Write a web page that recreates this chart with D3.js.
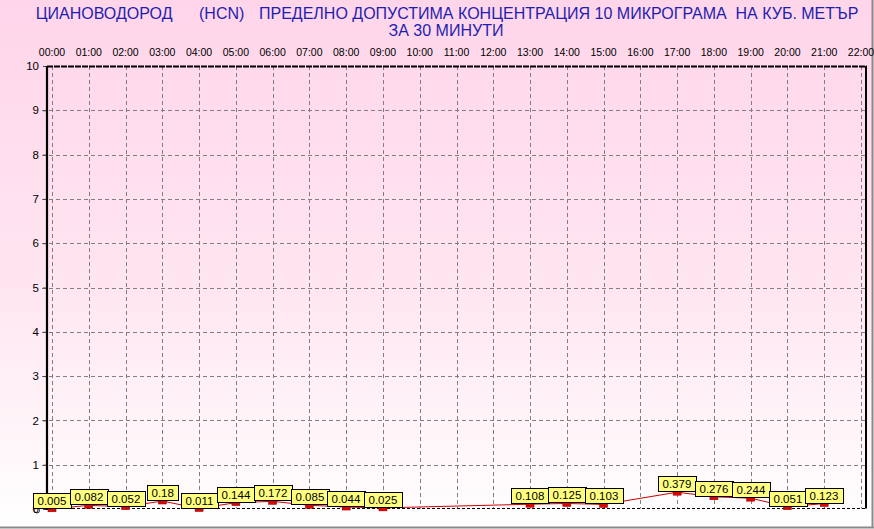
<!DOCTYPE html>
<html><head><meta charset="utf-8">
<script src="https://cdn.jsdelivr.net/npm/d3@7"></script>
<style>
html,body{margin:0;padding:0;background:#fff;}
svg{display:block;font-family:"Liberation Sans",Arial,sans-serif;}
</style></head>
<body>
<svg id="c" width="874" height="529"></svg>
<script>
const titleParts = ["ЦИАНОВОДОРОД", "(HCN)", "ПРЕДЕЛНО ДОПУСТИМА КОНЦЕНТРАЦИЯ 10 МИКРОГРАМА  НА КУБ. МЕТЪР"];
const subtitle = "ЗА 30 МИНУТИ";
const hours = ["00:00","01:00","02:00","03:00","04:00","05:00","06:00","07:00","08:00","09:00","10:00","11:00","12:00","13:00","14:00","15:00","16:00","17:00","18:00","19:00","20:00","21:00","22:00"];
const values = [0.005,0.082,0.052,0.18,0.011,0.144,0.172,0.085,0.044,0.025,null,null,null,0.108,0.125,0.103,null,0.379,0.276,0.244,0.051,0.123,null];
const yTicks = [0,1,2,3,4,5,6,7,8,9,10];

const svg = d3.select("#c");
const W = 874, H = 529;

// background gradient
const defs = svg.append("defs");
const g = defs.append("linearGradient").attr("id","bg").attr("x1",0).attr("y1",0).attr("x2",0).attr("y2",1);
g.append("stop").attr("offset","0%").attr("stop-color","#ffd5ea");
g.append("stop").attr("offset","55%").attr("stop-color","#ffe6f1");
g.append("stop").attr("offset","100%").attr("stop-color","#ffffff");
svg.append("rect").attr("x",0).attr("y",0).attr("width",W).attr("height",H).attr("fill","url(#bg)");

// frame
svg.append("line").attr("x1",872.5).attr("x2",872.5).attr("y1",0).attr("y2",528).attr("stroke","#8a8a8a").attr("stroke-width",2);
svg.append("line").attr("x1",0).attr("x2",874).attr("y1",527.5).attr("y2",527.5).attr("stroke","#8a8a8a").attr("stroke-width",2);

const plotL = 47, plotR = 866, plotT = 66, plotB = 508.5;
const x = d3.scaleLinear().domain([0, hours.length-1]).range([52, 861]);
const y = d3.scaleLinear().domain([0,10]).range([509, 66]);

// title
const tx = [35.7, 199, 259];
titleParts.forEach((t,i)=>{
  svg.append("text").attr("x",tx[i]).attr("y",18.5).attr("fill","#1e1eb0")
    .attr("font-size",16).style("white-space","pre").text(t);
});
svg.append("text").attr("x",446).attr("y",36).attr("text-anchor","middle").attr("fill","#1e1eb0")
  .attr("font-size",16).text(subtitle);

// grid
const grid = svg.append("g").attr("stroke","#808080").attr("stroke-dasharray","4,3").attr("stroke-width",1);
grid.selectAll("line.h").data(yTicks.filter(d=>d>0 && d<10)).join("line")
  .attr("x1",42).attr("x2",plotR).attr("y1",d=>Math.round(y(d))+0.5).attr("y2",d=>Math.round(y(d))+0.5);
grid.selectAll("line.v").data(hours).join("line")
  .attr("x1",(d,i)=>Math.round(x(i))+0.5).attr("x2",(d,i)=>Math.round(x(i))+0.5)
  .attr("y1",plotT).attr("y2",plotB);

// top x labels
svg.append("g").selectAll("text").data(hours).join("text")
  .attr("x",(d,i)=>x(i)).attr("y",56).attr("text-anchor","middle")
  .attr("font-size",10.5).attr("fill","#000").text(d=>d);

// borders
svg.append("line").attr("x1",plotL).attr("x2",plotR+1).attr("y1",66.5).attr("y2",66.5)
  .attr("stroke","#000").attr("stroke-width",2).attr("stroke-dasharray","6,1");
svg.append("line").attr("x1",plotR).attr("x2",plotR).attr("y1",66).attr("y2",plotB)
  .attr("stroke","#000").attr("stroke-width",2);
svg.append("line").attr("x1",plotL).attr("x2",plotR).attr("y1",plotB).attr("y2",plotB)
  .attr("stroke","#000").attr("stroke-width",1).attr("stroke-dasharray","3,2");

// left axis
const yAxis = d3.axisLeft(y).tickValues(yTicks).tickSize(4).tickFormat(d3.format("d"));
const ya = svg.append("g").attr("transform",`translate(${plotL},0)`).call(yAxis);
ya.select(".domain").remove();
ya.selectAll("text").attr("font-size",11.5).attr("font-family","Liberation Sans, Arial, sans-serif").attr("fill","#000").attr("dx","-1");
ya.selectAll(".tick line").attr("stroke","#444");
svg.append("line").attr("x1",plotL).attr("x2",plotL).attr("y1",66).attr("y2",510)
  .attr("stroke","#000").attr("stroke-width",2.2);
svg.append("circle").attr("cx",37).attr("cy",510.5).attr("r",2.5).attr("fill","none").attr("stroke","#000").attr("stroke-width",0.8);

// series
const pts = values.map((v,i)=>({i,v})).filter(d=>d.v!==null);
svg.append("path").datum(pts)
  .attr("d", d3.line().x(d=>x(d.i)).y(d=>y(d.v)))
  .attr("fill","none").attr("stroke","#cc0000").attr("stroke-width",1);

svg.append("g").selectAll("rect").data(pts).join("rect")
  .attr("x",d=>x(d.i)-4).attr("y",d=>y(d.v)-3).attr("width",8).attr("height",6)
  .attr("fill","#dd0000").attr("stroke","#900000").attr("stroke-width",0.5);

const lab = svg.append("g").selectAll("g").data(pts).join("g");
lab.each(function(d){
  const gg = d3.select(this);
  const r = gg.append("rect");
  const t = gg.append("text").attr("font-size",11.5).attr("fill","#000").text(String(d.v));
  const w = t.node().getComputedTextLength() + 9;
  const bx = x(d.i) - w/2, by = y(d.v) - 1 - 15;
  r.attr("x",Math.round(bx)+0.5).attr("y",Math.round(by)+0.5).attr("width",Math.round(w)).attr("height",15)
   .attr("fill","#ffff80").attr("stroke","#000").attr("stroke-width",1);
  t.attr("x",Math.round(bx)+4.5).attr("y",Math.round(by)+12);
});
</script>
</body></html>
